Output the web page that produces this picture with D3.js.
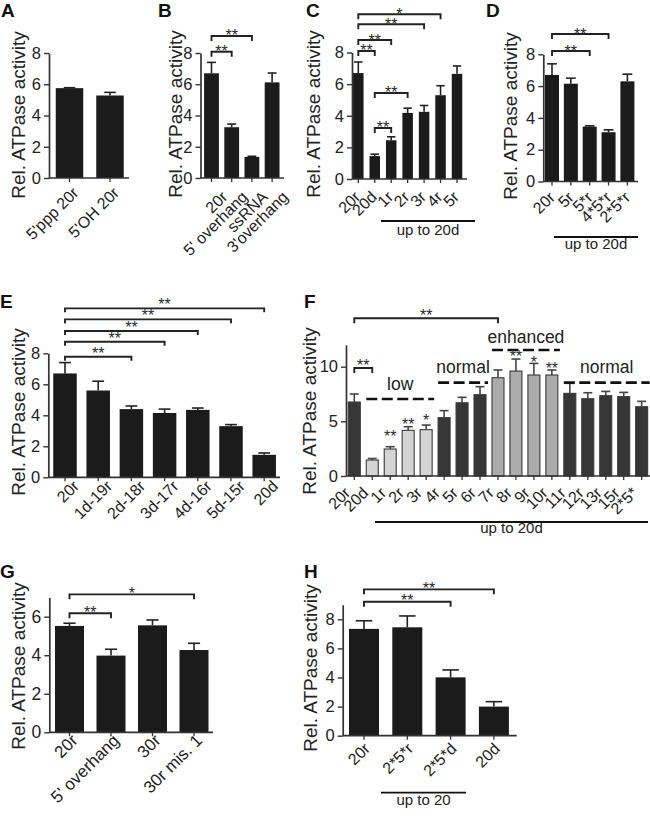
<!DOCTYPE html>
<html><head><meta charset="utf-8">
<script src="https://cdn.jsdelivr.net/npm/d3@7"></script>
<style>body{margin:0;background:#fff} svg{display:block;font-family:"Liberation Sans",Arial,Helvetica,sans-serif}</style>
</head><body><svg id="c" width="650" height="820"></svg>
<script>
// ---------------- DATA ----------------
const catsA = ["5'ppp 20r","5'OH 20r"];
const valsA = [5.75, 5.28];
const errsA = [0.03, 0.2];

const catsB = ["20r","5' overhang","ssRNA","3'overhang"];
const valsB = [6.7, 3.25, 1.35, 6.12];
const errsB = [0.7, 0.2, 0.04, 0.6];
const bracketsB = [[0,2,9.09,"**"],[0,1,8.08,"**"]];

const catsC = ["20r","20d","1r","2r","3r","4r","5r"];
const valsC = [6.7, 1.45, 2.45, 4.18, 4.25, 5.3, 6.65];
const errsC = [0.7, 0.12, 0.22, 0.3, 0.4, 0.6, 0.5];
const bracketsC = [[0,5,10.42,"*"],[0,4,9.79,"**"],[0,2,8.79,"**"],[0,1,8.1,"**"],[1,3,5.44,"**"],[1,2,3.23,"**"]];

const catsD = ["20r","5r","5*r","4*5*r","2*5*r"];
const valsD = [6.7, 6.15, 3.45, 3.1, 6.3];
const errsD = [0.7, 0.35, 0.05, 0.15, 0.45];
const bracketsD = [[0,3,9.28,"**"],[0,2,8.21,"**"]];

const catsE = ["20r","1d-19r","2d-18r","3d-17r","4d-16r","5d-15r","20d"];
const valsE = [6.7, 5.6, 4.4, 4.15, 4.35, 3.3, 1.45];
const errsE = [0.7, 0.6, 0.2, 0.25, 0.12, 0.1, 0.12];
const bracketsE = [[0,2,7.78,"**"],[0,3,8.75,"**"],[0,4,9.44,"**"],[0,5,10.19,"**"],[0,6,10.9,"**"]];

const catsF = ["20r","20d","1r","2r","3r","4r","5r","6r","7r","8r","9r","10r","11r","12r","13r","15r","2*5*"];
const valsF = [6.77,1.46,2.47,4.18,4.24,5.34,6.7,7.44,8.99,9.6,9.24,9.24,7.56,7.07,7.35,7.26,6.34];
const errsF = [0.73,0.14,0.21,0.33,0.42,0.64,0.5,0.73,0.71,1.1,1.06,0.46,0.92,0.55,0.39,0.39,0.49];
const classF = ["n","l","l","l","l","n","n","n","e","e","e","e","n","n","n","n","n"];
const bracketsF = [[0,8,14.43,"**"],[0,1,9.88,"**"]];
const groupsF = [[1,4,7.04,"low"],[5,7,8.54,"normal"],[8,11,11.53,"enhanced"],[12,16,8.54,"normal"]];
const barStarsF = [[2,3.9,"**"],[3,5.0,"**"],[4,5.43,"*"],[9,11.28,"**"],[10,10.7,"*"],[11,10.16,"**"]];

const catsG = ["20r","5' overhang","30r","30r mis. 1"];
const valsG = [5.52, 3.98, 5.55, 4.27];
const errsG = [0.14, 0.33, 0.28, 0.35];
const bracketsG = [[0,3,7.16,"*"],[0,1,6.18,"**"]];

const catsH = ["20r","2*5*r","2*5*d","20d"];
const valsH = [7.34, 7.45, 4.01, 2.0];
const errsH = [0.56, 0.78, 0.51, 0.34];
const bracketsH = [[0,3,10.06,"**"],[0,2,9.21,"**"]];

const ticks8 = [0,2,4,6,8];
const ticks12 = [0,5,10];
const ticks7 = [0,2,4,6];
const yTitle = "Rel. ATPase activity";

// ---------------- DRAW ----------------
const svg = d3.select("#c");
const INK = "#1b1b1b";

function drawPanel(cfg) {
  const L = cfg.L;
  const g = svg.append("g");
  const n = cfg.cats.length;
  const p = 1 - L.bw / L.step;
  const x = d3.scaleBand().domain(cfg.cats)
    .range([L.c0 - L.step/2, L.c0 - L.step/2 + n*L.step])
    .paddingInner(p).paddingOuter(p/2);
  const y = d3.scaleLinear().domain([0, L.ymax]).range([L.y0, L.y0 - L.ppu*L.ymax]);
  const cx = i => x(cfg.cats[i]) + x.bandwidth()/2;
  const fills = cfg.fills || cfg.cats.map(() => INK);

  // bars
  g.selectAll("rect.bar").data(cfg.vals).join("rect").attr("class","bar")
    .attr("x",(d,i)=>x(cfg.cats[i])).attr("width",x.bandwidth())
    .attr("y",d=>y(d)).attr("height",d=>y(0)-y(d))
    .attr("fill",(d,i)=>fills[i])
    .attr("stroke", cfg.stroke || "none").attr("stroke-width", cfg.stroke ? 1.1 : 0);
  // error bars (upper)
  const capW = x.bandwidth()*L.cap/2;
  const ec = cfg.errColor || "#222";
  cfg.vals.forEach((v,i)=>{
    const c = cx(i), top = y(v + cfg.errs[i]);
    g.append("line").attr("x1",c).attr("x2",c).attr("y1",y(v)).attr("y2",top)
      .attr("stroke",ec).attr("stroke-width",1.6);
    g.append("line").attr("x1",c-capW).attr("x2",c+capW).attr("y1",top).attr("y2",top)
      .attr("stroke",ec).attr("stroke-width",1.6);
  });
  // y axis
  const ax = d3.axisLeft(y).tickValues(cfg.ticks).tickFormat(d3.format("d"))
    .tickSize(5).tickSizeOuter(0).tickPadding(3);
  const ag = g.append("g").attr("transform",`translate(${L.ax0},0)`).call(ax);
  ag.select(".domain").attr("stroke","#333").attr("stroke-width",1.7);
  ag.selectAll(".tick line").attr("stroke","#333").attr("stroke-width",1.4);
  ag.selectAll(".tick text").attr("font-size",L.tfs || 16.5).attr("fill","#222")
    .attr("font-family",'"Liberation Sans",Arial,sans-serif');
  // x axis line
  g.append("line").attr("x1",L.ax0).attr("x2",L.ax1).attr("y1",y(0)).attr("y2",y(0))
    .attr("stroke","#333").attr("stroke-width",1.7);
  cfg.cats.forEach((c,i)=>{
    g.append("line").attr("x1",cx(i)).attr("x2",cx(i)).attr("y1",y(0)).attr("y2",y(0)+4)
      .attr("stroke","#333").attr("stroke-width",1.3);
    g.append("text").text(c)
      .attr("transform",`translate(${cx(i)+L.lx},${y(0)+L.ly}) rotate(-45)`)
      .attr("text-anchor","end").attr("dy","0.35em")
      .attr("font-size",L.xfs || 16).attr("fill","#222");
  });
  // y title
  g.append("text").text(yTitle)
    .attr("transform",`translate(${L.ylx},${L.yly}) rotate(-90)`)
    .attr("text-anchor","middle").attr("font-size",19).attr("fill","#222");
  // panel letter
  g.append("text").text(cfg.letter).attr("x",L.px).attr("y",L.py)
    .attr("font-size",19).attr("font-weight","bold").attr("fill","#111");
  // brackets
  (cfg.brackets||[]).forEach(b=>{
    const x1 = cx(b[0]), x2 = cx(b[1]), yy = y(b[2]);
    const tl = L.tick || 5;
    g.append("path").attr("d",`M${x1},${yy+tl}V${yy}H${x2}V${yy+tl}`)
      .attr("fill","none").attr("stroke","#222").attr("stroke-width",1.9);
    g.append("text").text(b[3]).attr("x",(x1+x2)/2).attr("y",yy - (L.soff||3.5) + 9)
      .attr("text-anchor","middle").attr("font-size",16).attr("fill","#2a2a2a");
  });
  // underline group
  if (cfg.under) {
    const u = cfg.under;
    g.append("line").attr("x1",u.x1).attr("x2",u.x2).attr("y1",u.y).attr("y2",u.y)
      .attr("stroke","#111").attr("stroke-width",1.8);
    g.append("text").text(u.text).attr("x",(u.x1+u.x2)/2 + (u.dx||0)).attr("y",u.ty)
      .attr("text-anchor","middle").attr("font-size",15).attr("fill","#222");
  }
  return {g, x, y, cx};
}

drawPanel({letter:"A", cats:catsA, vals:valsA, errs:errsA, ticks:ticks8,
  L:{ax0:49, ax1:129, y0:178, ppu:15.625, ymax:8, c0:69.5, step:40.5, bw:27.5, cap:0.42,
     lx:6, ly:12, ylx:25, yly:115, px:1, py:17}});

drawPanel({letter:"B", cats:catsB, vals:valsB, errs:errsB, ticks:ticks8, brackets:bracketsB,
  L:{ax0:200.5, ax1:284, y0:178, ppu:15.625, ymax:8, c0:211.5, step:20.2, bw:14.8, cap:0.6,
     lx:13, ly:16, ylx:182, yly:114, px:158, py:17, soff:3.5}});

drawPanel({letter:"C", cats:catsC, vals:valsC, errs:errsC, ticks:ticks8, brackets:bracketsC,
  L:{ax0:352, ax1:467, y0:179, ppu:15.81, ymax:8, c0:358.3, step:16.45, bw:10.5, cap:0.8,
     lx:-1, ly:15, ylx:320, yly:114, px:306, py:17, soff:3.5},
  under:{x1:381, x2:475, y:221, text:"up to 20d", ty:235}});

drawPanel({letter:"D", cats:catsD, vals:valsD, errs:errsD, ticks:ticks8, brackets:bracketsD,
  L:{ax0:543.3, ax1:638, y0:181.5, ppu:15.9, ymax:8, c0:552, step:18.85, bw:14, cap:0.7,
     lx:0, ly:13, ylx:517, yly:116, px:486, py:17, soff:3},
  under:{x1:554, x2:638, y:237, text:"up to 20d", ty:249}});

drawPanel({letter:"E", cats:catsE, vals:valsE, errs:errsE, ticks:ticks8, brackets:bracketsE,
  L:{ax0:48.3, ax1:280, y0:477.3, ppu:15.5, ymax:8, c0:65, step:33.2, bw:23.5, cap:0.5,
     lx:11, ly:6, ylx:25, yly:412, px:0, py:308, soff:7, tick:4}});

const fillMap = {n:"#363636", l:"#d4d4d4", e:"#ababab"};
const pf = drawPanel({letter:"F", cats:catsF, vals:valsF, errs:errsF, ticks:ticks12, brackets:bracketsF,
  fills: classF.map(c=>fillMap[c]), stroke:"#3a3a3a", errColor:"#444",
  L:{ax0:346, ax1:650, y0:476, ppu:10.93, ymax:12, c0:354.3, step:17.96, bw:12, cap:0.75,
     lx:-7, ly:14, ylx:316, yly:411, px:304, py:308, soff:6},
  under:{x1:375, x2:648, y:522, text:"up to 20d", ty:533}});
// F group dashes and labels
groupsF.forEach(gr=>{
  const bw = pf.x.bandwidth();
  const x1 = pf.cx(gr[0]) - bw/2, x2 = pf.cx(gr[1]) + bw/2 + 2, yy = pf.y(gr[2]);
  pf.g.append("line").attr("x1",x1).attr("x2",x2).attr("y1",yy).attr("y2",yy)
    .attr("stroke","#111").attr("stroke-width",2.6).attr("stroke-dasharray","11,4.5");
  pf.g.append("text").text(gr[3]).attr("x",(x1+x2)/2).attr("y",yy - (gr[3]==="enhanced"?7:9.5))
    .attr("text-anchor","middle").attr("font-size",17.5).attr("fill","#222");
});
barStarsF.forEach(s=>{
  pf.g.append("text").text(s[2]).attr("x",pf.cx(s[0])).attr("y",pf.y(s[1]) + 9)
    .attr("text-anchor","middle").attr("font-size",16).attr("fill","#2a2a2a");
});

drawPanel({letter:"G", cats:catsG, vals:valsG, errs:errsG, ticks:ticks7, brackets:bracketsG,
  L:{ax0:49.3, ax1:213, y0:732.3, ppu:19.27, ymax:7, c0:69.5, step:41.5, bw:29, cap:0.42,
     lx:5, ly:5, ylx:25, yly:666, px:0, py:578, soff:4, tfs:17.5, xfs:17}});

drawPanel({letter:"H", cats:catsH, vals:valsH, errs:errsH, ticks:ticks8, brackets:bracketsH,
  L:{ax0:342.7, ax1:516.7, y0:735.7, ppu:14.55, ymax:9, c0:364, step:43.3, bw:30, cap:0.55,
     lx:3, ly:10, ylx:317, yly:668, px:304, py:578, soff:4.5},
  under:{x1:381, x2:466, y:792.7, text:"up to 20", ty:805}});
</script></body></html>
